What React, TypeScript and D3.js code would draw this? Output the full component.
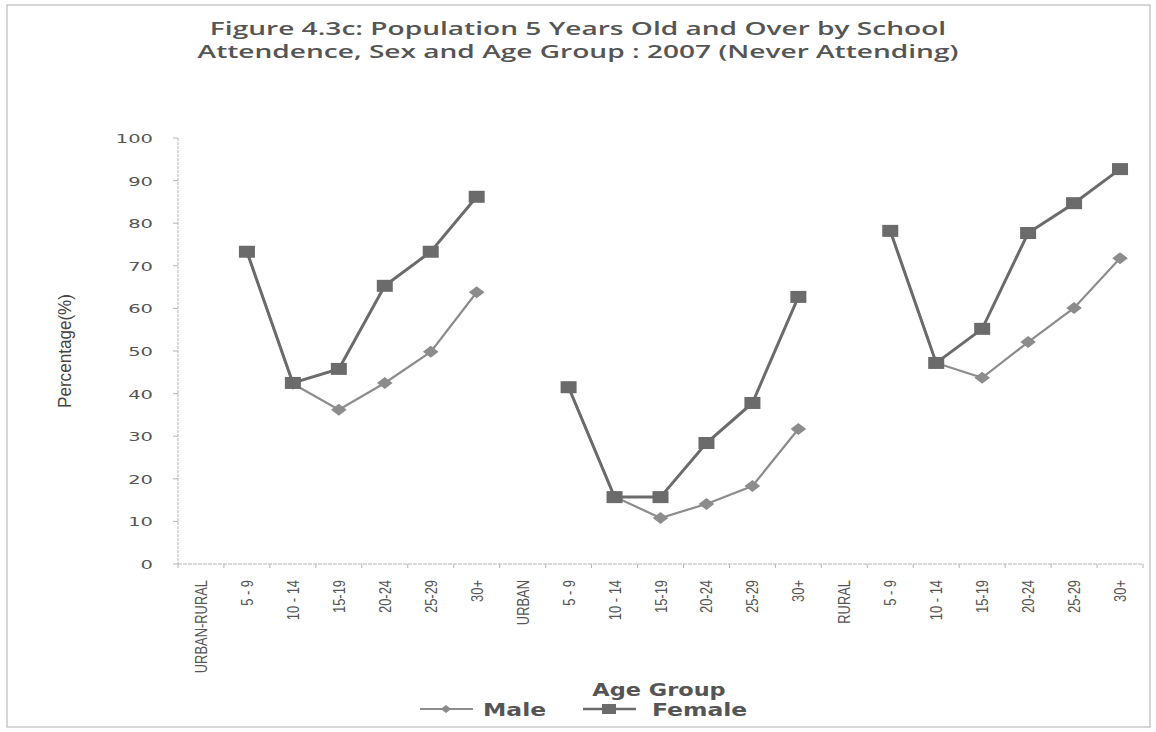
import React from "react";
import * as d3 from "d3";

const categories = [
  "URBAN-RURAL", "5 - 9", "10 - 14", "15-19", "20-24", "25-29", "30+",
  "URBAN", "5 - 9", "10 - 14", "15-19", "20-24", "25-29", "30+",
  "RURAL", "5 - 9", "10 - 14", "15-19", "20-24", "25-29", "30+",
];
const maleValues: (number | null)[] = [
  null, 73.3, 42.3, 36.2, 42.5, 49.8, 63.8,
  null, 41.5, 15.8, 10.8, 14.1, 18.3, 31.7,
  null, 78.2, 47.2, 43.7, 52.1, 60.1, 71.8,
];
const femaleValues: (number | null)[] = [
  null, 73.3, 42.5, 45.8, 65.3, 73.3, 86.2,
  null, 41.5, 15.7, 15.7, 28.4, 37.8, 62.7,
  null, 78.2, 47.2, 55.2, 77.7, 84.7, 92.7,
];
const yTicks = [0, 10, 20, 30, 40, 50, 60, 70, 80, 90, 100];
const titleLines = [
  "Figure 4.3c: Population  5 Years Old and Over by School",
  "Attendence, Sex and  Age Group : 2007 (Never Attending)",
];

const W = 1156, H = 732;
const left = 178, right = 1143, top = 138, bottom = 564;

export default function App() {
  const x = d3.scaleBand<number>().domain(categories.map((_, i) => i)).range([left, right]);
  const y = d3.scaleLinear().domain([0, 100]).range([bottom, top]);
  const cx = (i: number) => (x(i) as number) + x.bandwidth() / 2;

  const segs = (vals: (number | null)[]) => {
    const groups: { i: number; v: number }[][] = [];
    let cur: { i: number; v: number }[] = [];
    vals.forEach((v, i) => {
      if (v == null) { if (cur.length) groups.push(cur); cur = []; }
      else cur.push({ i, v });
    });
    if (cur.length) groups.push(cur);
    return groups;
  };
  const line = d3.line<{ i: number; v: number }>().x(d => cx(d.i)).y(d => y(d.v));

  const maleColor = "#8c8c8c";
  const femaleColor = "#6b6b6b";
  const textColor = "#555";
  const diamond = (px: number, py: number, s = 6) =>
    `M${px},${py - s} L${px + s * 1.3},${py} L${px},${py + s} L${px - s * 1.3},${py} Z`;

  return (
    <svg width={W} height={H} style={{ position: "absolute", left: 0, top: 0, background: "#fff" }}>
      <rect x={7} y={5} width={1143} height={722} fill="#fff" stroke="#bbb" strokeWidth={1.2} />
      {titleLines.map((t, k) => (
        <text key={k} transform={`translate(578,${35 + k * 23}) scale(1.56,1)`} textAnchor="middle"
          fontFamily="'Open Sans', sans-serif" fontWeight={600} fontSize={18} fill={textColor}>
          {t}
        </text>
      ))}

      {/* axes */}
      <line x1={left} x2={left} y1={top} y2={bottom} stroke="#b5b5b5" strokeWidth={1} strokeDasharray="3,1" />
      <line x1={left} x2={right} y1={bottom} y2={bottom} stroke="#b5b5b5" strokeWidth={1} strokeDasharray="4,1" />
      {yTicks.map(t => (
        <g key={t}>
          <line x1={left - 5} x2={left} y1={y(t)} y2={y(t)} stroke="#b5b5b5" />
          <text transform={`translate(${left - 25},${y(t) + 5}) scale(1.5,1)`} textAnchor="end"
            fontFamily="'DejaVu Sans', sans-serif" fontSize={13} fill={textColor}>
            {t}
          </text>
        </g>
      ))}
      {categories.map((c, i) => (
        <g key={i}>
          <line x1={x(i) as number} x2={x(i) as number} y1={bottom} y2={bottom + 4} stroke="#b5b5b5" />
          <text
            transform={`translate(${cx(i) + 6},${bottom + 16}) rotate(-90) scale(0.76,1)`}
            textAnchor="end"
            fontFamily="'Liberation Sans', sans-serif"
            fontSize={17}
            fill={textColor}
          >
            {c}
          </text>
        </g>
      ))}
      <line x1={right} x2={right} y1={bottom} y2={bottom + 4} stroke="#b5b5b5" />

      <text transform={`translate(71,351) rotate(-90) scale(0.9,1)`} textAnchor="middle"
        fontFamily="'Liberation Sans', sans-serif" fontSize={19} fill="#444">
        Percentage(%)
      </text>

      {/* male series */}
      {segs(maleValues).map((g, k) => (
        <path key={"m" + k} d={line(g) || ""} fill="none" stroke={maleColor} strokeWidth={2.2} />
      ))}
      {segs(maleValues).flat().map(d => (
        <path key={"md" + d.i} d={diamond(cx(d.i), y(d.v))} fill={maleColor} />
      ))}
      {/* female series */}
      {segs(femaleValues).map((g, k) => (
        <path key={"f" + k} d={line(g) || ""} fill="none" stroke={femaleColor} strokeWidth={3} />
      ))}
      {segs(femaleValues).flat().map(d => (
        <rect key={"fd" + d.i} x={cx(d.i) - 8} y={y(d.v) - 6} width={16} height={12} fill={femaleColor} />
      ))}

      {/* axis title & legend */}
      <text transform="translate(659,696) scale(1.32,1)" textAnchor="middle"
        fontFamily="'DejaVu Sans', sans-serif" fontWeight="bold" fontSize={17} fill={textColor}>
        Age Group
      </text>
      <line x1={420} x2={473} y1={709} y2={709} stroke={maleColor} strokeWidth={2} />
      <path d={diamond(446, 709, 4)} fill={maleColor} />
      <text transform="translate(483,716) scale(1.38,1)" fontFamily="'DejaVu Sans', sans-serif" fontWeight="bold" fontSize={17} fill={textColor}>Male</text>
      <line x1={583} x2={636} y1={709} y2={709} stroke={femaleColor} strokeWidth={2.5} />
      <rect x={602} y={704} width={14} height={10} fill={femaleColor} />
      <text transform="translate(652,716) scale(1.38,1)" fontFamily="'DejaVu Sans', sans-serif" fontWeight="bold" fontSize={17} fill={textColor}>Female</text>
    </svg>
  );
}
